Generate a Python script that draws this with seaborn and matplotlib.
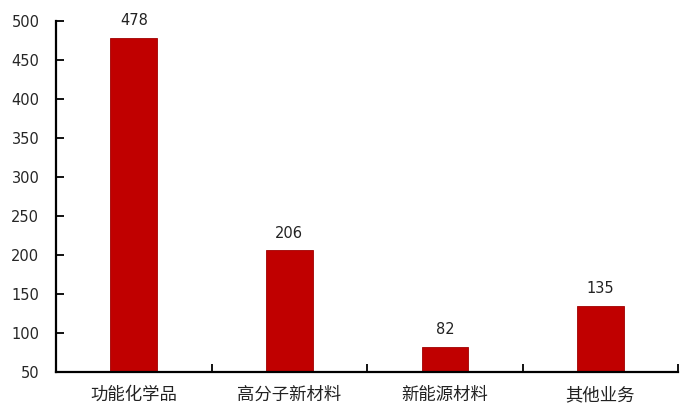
import numpy as np
import pandas as pd
import matplotlib
matplotlib.use("Agg")
import matplotlib.pyplot as plt
import seaborn as sns
from matplotlib.ticker import FixedLocator, NullFormatter

# data
categories = ["功能化学品", "高分子新材料", "新能源材料", "其他业务"]
values = [478, 206, 82, 135]

df = pd.DataFrame({"cat": categories, "val": values})

sns.set_style("white")
plt.rcParams['font.family'] = ['DejaVu Sans', 'Noto Sans CJK SC']
plt.rcParams['xtick.direction'] = 'in'
plt.rcParams['ytick.direction'] = 'in'
plt.rcParams['xtick.minor.visible'] = False

fig = plt.figure(figsize=(7, 4.2), dpi=100)
ax = fig.add_axes([0.08, 0.114, 0.889, 0.836])

sns.barplot(data=df, x="cat", y="val", color="#C00000", width=0.3,
            saturation=1, ax=ax, edgecolor="#A00000", linewidth=0.6)

ax.set_ylim(50, 500)
ax.set_xlim(-0.5, len(categories) - 0.5)
ax.set_yticks(np.arange(50, 501, 50))
ax.set_xlabel("")
ax.set_ylabel("")

# category boundaries like excel
ax.xaxis.set_minor_locator(FixedLocator(np.arange(0.5, len(categories), 1.0)))
ax.xaxis.set_minor_formatter(NullFormatter())
ax.tick_params(axis="x", which="major", bottom=False, length=0, pad=10)
ax.tick_params(axis="x", which="minor", bottom=True, length=6, width=1.3,
               direction="in", color="black")
ax.tick_params(axis="y", which="major", left=True, length=6, width=1.3,
               direction="in", labelsize=10.5, color="black", pad=12)
for lab in ax.get_xticklabels():
    lab.set_fontfamily(['Noto Sans CJK SC', 'DejaVu Sans'])
    lab.set_fontsize(12.5)
    lab.set_color("#222222")

for s in ["top", "right"]:
    ax.spines[s].set_visible(False)
for s in ["left", "bottom"]:
    ax.spines[s].set_color("black")
    ax.spines[s].set_linewidth(1.6)

for i, v in enumerate(values):
    ax.annotate(str(v), (i, v), xytext=(0, 7), textcoords="offset points",
                ha="center", va="bottom", fontsize=10.5, color="#222222")

fig.savefig("out.png", dpi=100)
